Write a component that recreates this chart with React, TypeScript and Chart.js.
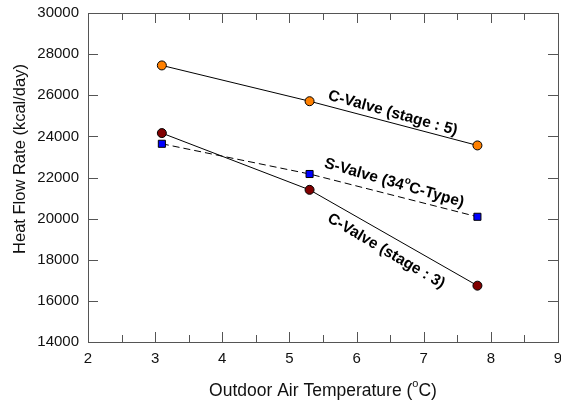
import React, { useEffect, useRef } from "react";
import { Chart, registerables } from "chart.js";

Chart.register(...registerables);

const temps = [3.1, 5.3, 7.8];
const cValveStage5 = [27450, 25710, 23560];
const sValve34 = [23640, 22170, 20090];
const cValveStage3 = [24160, 21400, 16740];

const xTicks = [2, 3, 4, 5, 6, 7, 8, 9];
const yTicks = [14000, 16000, 18000, 20000, 22000, 24000, 26000, 28000, 30000];

const FONT = "Arial, 'Liberation Sans', Helvetica, sans-serif";

type Part = { t: string; sup?: boolean };

function drawParts(ctx: any, parts: Part[], size: number, bold: boolean) {
  const w = bold ? "bold " : "";
  const big = w + size + "px " + FONT;
  const small = w + Math.round(size * 0.62) + "px " + FONT;
  let total = 0;
  for (const p of parts) {
    ctx.font = p.sup ? small : big;
    total += ctx.measureText(p.t).width;
  }
  let x = -total / 2;
  for (const p of parts) {
    ctx.font = p.sup ? small : big;
    ctx.fillText(p.t, x, p.sup ? -size * 0.38 : 0);
    x += ctx.measureText(p.t).width;
  }
}

const framePlugin = {
  id: "frameTicks",
  afterDraw(chart: any) {
    const { ctx, chartArea: a, scales } = chart;
    const xs = scales.x;
    const ys = scales.y;
    ctx.save();
    ctx.strokeStyle = "#555";
    ctx.lineWidth = 1;
    ctx.strokeRect(Math.round(a.left) + 0.5, Math.round(a.top) + 0.5, Math.round(a.right - a.left), Math.round(a.bottom - a.top));
    ctx.beginPath();
    for (let v = 2; v <= 9.001; v += 0.5) {
      const px = Math.round(xs.getPixelForValue(v)) + 0.5;
      const len = Math.abs(v - Math.round(v)) < 0.01 ? 10 : 7;
      ctx.moveTo(px, a.bottom);
      ctx.lineTo(px, a.bottom - len);
      ctx.moveTo(px, a.top);
      ctx.lineTo(px, a.top + len);
    }
    for (const v of yTicks) {
      const py = Math.round(ys.getPixelForValue(v)) + 0.5;
      ctx.moveTo(a.left, py);
      ctx.lineTo(a.left + 10, py);
      ctx.moveTo(a.right, py);
      ctx.lineTo(a.right - 10, py);
    }
    ctx.stroke();

    ctx.fillStyle = "#111";
    ctx.textBaseline = "middle";
    // axis titles
    ctx.save();
    ctx.translate((a.left + a.right) / 2, 391);
    drawParts(ctx, [{ t: "Outdoor Air Temperature (" }, { t: "o", sup: true }, { t: "C)" }], 17.5, false);
    ctx.restore();
    ctx.save();
    ctx.translate(20, 159);
    ctx.rotate(-Math.PI / 2);
    drawParts(ctx, [{ t: "Heat Flow Rate (kcal/day)" }], 16.5, false);
    ctx.restore();

    // annotations
    const drawLabel = (parts: Part[], xv: number, yv: number, angleDeg: number) => {
      ctx.save();
      ctx.translate(xs.getPixelForValue(xv), ys.getPixelForValue(yv));
      ctx.rotate((angleDeg * Math.PI) / 180);
      ctx.fillStyle = "#000";
      drawParts(ctx, parts, 15.5, true);
      ctx.restore();
    };
    drawLabel([{ t: "C-Valve (stage : 5)" }], 6.54, 25130, 15.5);
    drawLabel([{ t: "S-Valve (34" }, { t: "o", sup: true }, { t: "C-Type)" }], 6.56, 21730, 16);
    drawLabel([{ t: "C-Valve (stage : 3)" }], 6.44, 18420, 30.5);
    ctx.restore();
  },
};

export default function App() {
  const ref = useRef<HTMLCanvasElement | null>(null);
  useEffect(() => {
    if (!ref.current) return;
    const chart = new Chart(ref.current, {
      type: "scatter",
      data: {
        datasets: [
          {
            label: "C-Valve (stage : 5)",
            data: temps.map((x, i) => ({ x, y: cValveStage5[i] })),
            showLine: true,
            borderColor: "#000",
            borderWidth: 1,
            pointStyle: "circle",
            pointRadius: 4.5,
            pointBackgroundColor: "#ff8000",
            pointBorderColor: "#000",
            pointBorderWidth: 1,
          },
          {
            label: "S-Valve (34°C-Type)",
            data: temps.map((x, i) => ({ x, y: sValve34[i] })),
            showLine: true,
            borderColor: "#000",
            borderWidth: 1,
            borderDash: [7, 4],
            pointStyle: "rect",
            pointRadius: 5,
            pointBackgroundColor: "#0000ff",
            pointBorderColor: "#000",
            pointBorderWidth: 1,
          },
          {
            label: "C-Valve (stage : 3)",
            data: temps.map((x, i) => ({ x, y: cValveStage3[i] })),
            showLine: true,
            borderColor: "#000",
            borderWidth: 1,
            pointStyle: "circle",
            pointRadius: 4.5,
            pointBackgroundColor: "#800000",
            pointBorderColor: "#000",
            pointBorderWidth: 1,
          },
        ],
      },
      options: {
        animation: false,
        responsive: false,
        layout: { padding: { left: 0, right: 0, top: 13, bottom: 0 } },
        plugins: { legend: { display: false }, tooltip: { enabled: false } },
        scales: {
          x: {
            type: "linear",
            min: 2,
            max: 9,
            afterBuildTicks: (s: any) => {
              s.ticks = xTicks.map((v) => ({ value: v }));
            },
            grid: { display: false, drawTicks: false },
            border: { display: false },
            ticks: {
              color: "#111",
              font: { size: 15, family: FONT },
              padding: 8,
              maxRotation: 0,
              callback: (v: any) => String(v),
            },
            title: { display: false },
            afterFit: (s: any) => {
              s.height = 61;
              s.paddingLeft = 0;
              s.paddingRight = 0;
            },
          },
          y: {
            type: "linear",
            min: 14000,
            max: 30000,
            afterBuildTicks: (s: any) => {
              s.ticks = yTicks.map((v) => ({ value: v }));
            },
            grid: { display: false, drawTicks: false },
            border: { display: false },
            ticks: {
              color: "#111",
              font: { size: 15, family: FONT },
              padding: 9,
              callback: (v: any) => String(v),
            },
            title: { display: false },
            afterFit: (s: any) => {
              s.width = 88;
              s.paddingTop = 0;
              s.paddingBottom = 0;
            },
          },
        },
      },
      plugins: [framePlugin],
    });
    return () => chart.destroy();
  }, []);
  return (
    <div style={{ position: "fixed", left: 0, top: 0, width: 561, height: 403, overflow: "hidden", background: "#fff" }}>
      <canvas ref={ref} width={564} height={403} />
    </div>
  );
}
